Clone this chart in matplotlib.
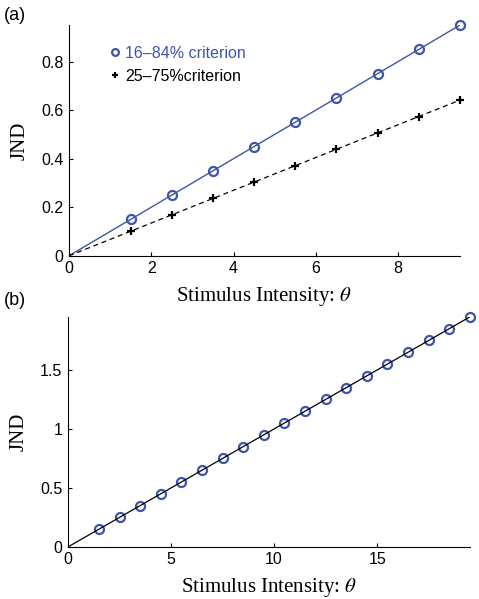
import matplotlib.pyplot as plt

plt.rcParams["font.family"] = "Liberation Sans"
plt.rcParams["mathtext.fontset"] = "stix"

# panel (a) data
theta_a = [1.5, 2.5, 3.5, 4.5, 5.5, 6.5, 7.5, 8.5, 9.5]
jnd_1684 = [0.15, 0.25, 0.35, 0.45, 0.55, 0.65, 0.75, 0.85, 0.95]
jnd_2575 = [0.101, 0.169, 0.236, 0.304, 0.371, 0.438, 0.506, 0.573, 0.641]
line_x_a = [0, 9.5]
line_1684 = [0, 0.95]
line_2575 = [0, 0.641]

# panel (b) data
theta_b = [1.5, 2.5, 3.5, 4.5, 5.5, 6.5, 7.5, 8.5, 9.5, 10.5,
           11.5, 12.5, 13.5, 14.5, 15.5, 16.5, 17.5, 18.5, 19.5]
jnd_b = [0.15, 0.25, 0.35, 0.45, 0.55, 0.65, 0.75, 0.85, 0.95, 1.05,
         1.15, 1.25, 1.35, 1.45, 1.55, 1.65, 1.75, 1.85, 1.95]
line_x_b = [0, 19.5]
line_b = [0, 1.95]

blue = '#3f55a8'
serif = 'Liberation Serif'
xlab = 'Stimulus Intensity: $\\theta$'

fig = plt.figure(figsize=(4.79, 5.99), dpi=100)

def style(ax):
    ax.spines['top'].set_visible(False)
    ax.spines['right'].set_visible(False)
    ax.tick_params(direction='in', length=3, labelsize=11.5, width=0.8, pad=4)
    ax.set_ylabel('JND', family=serif, fontsize=15, labelpad=8)
    ax.set_xlabel(xlab, family=serif, fontsize=15, labelpad=6)

############# panel (a) ########################################
ax_a = fig.add_axes([0.144, 0.573, 0.816, 0.385])
ax_a.plot(line_x_a, line_1684, '-', color=blue, lw=1)
ax_a.plot(line_x_a, line_2575, '--', color='k', lw=0.9, dashes=(4, 3))
ax_a.plot(theta_a, jnd_1684, 'o', ms=6.5, mfc='none', mec=blue, mew=1.6,
          label='16\u201384% criterion', clip_on=False)
ax_a.plot(theta_a, jnd_2575, '+', ms=6, color='k', mew=1.6,
          label='25\u201375%criterion', clip_on=False)
ax_a.set_xlim(0, 9.5)
ax_a.set_ylim(0, 0.95)
ax_a.set_xticks([0, 2, 4, 6, 8])
ax_a.set_yticks([0, 0.2, 0.4, 0.6, 0.8])
ax_a.set_yticklabels(['0', '0.2', '0.4', '0.6', '0.8'])
style(ax_a)
leg = ax_a.legend(loc='upper left', bbox_to_anchor=(0.09, 0.937), frameon=False,
                  fontsize=11.5, handlelength=0.6, handletextpad=0.3,
                  labelspacing=0.5, borderaxespad=0, markerscale=0.75)
for txt, c in zip(leg.get_texts(), [blue, 'k']):
    txt.set_color(c)

############# panel (b) ########################################
ax_b = fig.add_axes([0.142, 0.087, 0.839, 0.384])
ax_b.plot(theta_b, jnd_b, 'o', ms=6.5, mfc='none', mec=blue, mew=1.6, clip_on=False)
ax_b.plot(line_x_b, line_b, '-', color='k', lw=0.9)
ax_b.set_xlim(0, 19.5)
ax_b.set_ylim(0, 1.95)
ax_b.set_xticks([0, 5, 10, 15])
ax_b.set_yticks([0, 0.5, 1, 1.5])
ax_b.set_yticklabels(['0', '0.5', '1', '1.5'])
style(ax_b)

fig.text(0.008, 0.974, '(a)', fontsize=13, va='center')
fig.text(0.008, 0.499, '(b)', fontsize=13, va='center')

plt.savefig('out.png', dpi=100)
